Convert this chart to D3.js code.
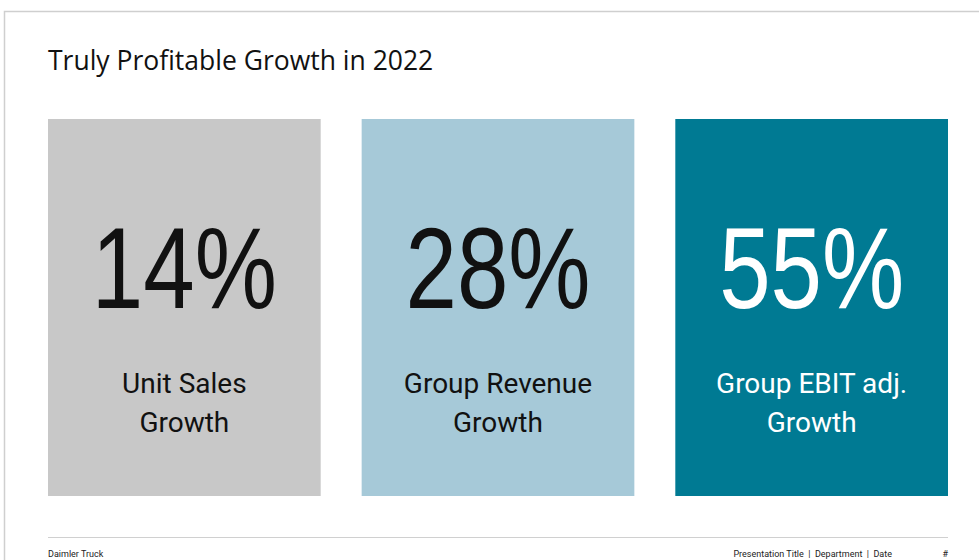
<!DOCTYPE html>
<html>
<head>
<meta charset="utf-8">
<script src="https://cdn.jsdelivr.net/npm/d3@7"></script>
<style>
  body { margin: 0; background: #fff; }
  svg { display: block; }
</style>
</head>
<body>
<svg id="slide"></svg>
<script>
// the three kpi tiles
var categories = ["Unit Sales", "Group Revenue", "Group EBIT adj."];
var values = [14, 28, 55];
var subLabels = ["Growth", "Growth", "Growth"];
var tileColors = ["#c8c8c8", "#a6c9d8", "#007a93"];
var textColors = ["#111111", "#111111", "#ffffff"];

var titleText = "Truly Profitable Growth in 2022";
var footerLeft = "Daimler Truck";
var footerRight = "Presentation Title  |  Department  |  Date";

var drawSlide = function(target)
{
    var screen = {width:979, height:560};
    var margins = {top:119, bottom:64, left:48, right:31};

    var svg = d3.select(target)
        .attr("width", screen.width)
        .attr("height", screen.height);

    // slide frame (only top and left edge are visible)
    svg.append("path")
        .attr("d", "M4.5," + screen.height + "V11.5H" + screen.width)
        .attr("fill", "none")
        .attr("stroke", "#cfcfcf")
        .attr("stroke-width", 1.5);

    svg.append("text")
        .attr("x", margins.left)
        .attr("y", 70)
        .attr("font-family", "Open Sans, sans-serif")
        .attr("font-size", 26.5)
        .attr("fill", "#111")
        .text(titleText);

    var xScale = d3.scaleBand()
        .domain(categories)
        .range([margins.left, screen.width - margins.right])
        .paddingInner(0.1306)
        .paddingOuter(0);

    var tiles = svg.selectAll(".tile")
        .data(categories)
        .enter()
        .append("g")
        .classed("tile", true)
        .attr("transform", function(d)
        {
            return "translate(" + xScale(d) + "," + margins.top + ")";
        });

    var tileHeight = 496 - margins.top;

    tiles.append("rect")
        .attr("width", xScale.bandwidth())
        .attr("height", tileHeight)
        .attr("fill", function(d, i) { return tileColors[i]; });

    // big percentage, squeezed a bit since the slide font is narrower
    tiles.append("text")
        .attr("x", xScale.bandwidth() / 2)
        .attr("y", 189)
        .attr("text-anchor", "middle")
        .attr("font-family", "Liberation Sans, Arial, sans-serif")
        .attr("font-size", 115)
        .attr("textLength", 185)
        .attr("lengthAdjust", "spacingAndGlyphs")
        .attr("fill", function(d, i) { return textColors[i]; })
        .text(function(d, i) { return values[i] + "%"; });

    tiles.append("text")
        .attr("x", xScale.bandwidth() / 2)
        .attr("y", 274)
        .attr("text-anchor", "middle")
        .attr("font-family", "Roboto, sans-serif")
        .attr("font-size", 28)
        .attr("fill", function(d, i) { return textColors[i]; })
        .text(function(d) { return d; });

    tiles.append("text")
        .attr("x", xScale.bandwidth() / 2)
        .attr("y", 313)
        .attr("text-anchor", "middle")
        .attr("font-family", "Roboto, sans-serif")
        .attr("font-size", 28)
        .attr("fill", function(d, i) { return textColors[i]; })
        .text(function(d, i) { return subLabels[i]; });

    // footer
    svg.append("line")
        .attr("x1", margins.left)
        .attr("x2", screen.width - margins.right)
        .attr("y1", 537.5)
        .attr("y2", 537.5)
        .attr("stroke", "#d0d0d0")
        .attr("stroke-width", 1);

    var footer = svg.append("g")
        .attr("font-family", "Roboto, sans-serif")
        .attr("font-size", 9)
        .attr("fill", "#222");

    footer.append("text")
        .attr("x", margins.left)
        .attr("y", 557)
        .text(footerLeft);

    footer.append("text")
        .attr("x", 892)
        .attr("y", 557)
        .attr("text-anchor", "end")
        .attr("xml:space", "preserve")
        .text(footerRight);

    footer.append("text")
        .attr("x", 948)
        .attr("y", 557)
        .attr("text-anchor", "end")
        .text("#");
}

drawSlide("#slide");
</script>
</body>
</html>
